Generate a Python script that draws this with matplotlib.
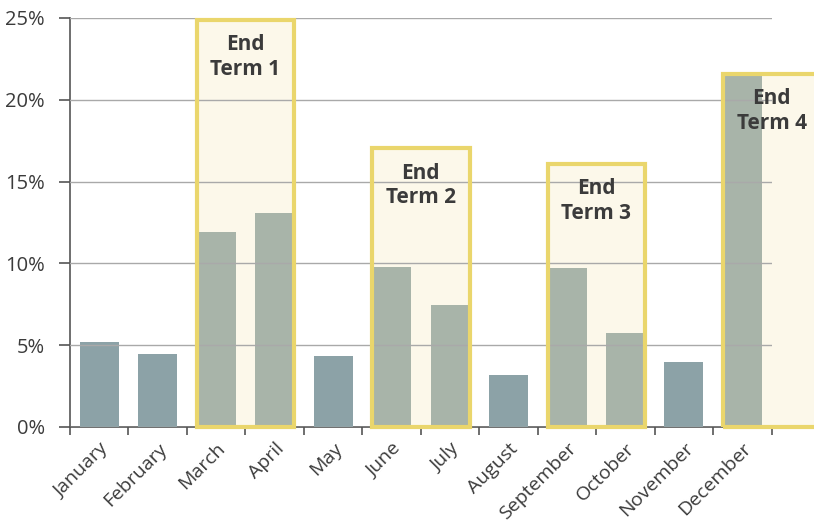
import matplotlib
matplotlib.use("Agg")
import matplotlib.pyplot as plt
import numpy as np

# monthly share, in percent
months = ["January", "February", "March", "April", "May", "June", "July",
          "August", "September", "October", "November", "December"]
values = [5.2, 4.45, 11.9, 13.1, 4.35, 9.8, 7.45, 3.2, 9.7, 5.75, 4.0, 21.5]
in_term = [False, False, True, True, False, True, True, False, True, True, False, True]

# end-of-term boxes: first month index, height of the box
term_labels = ["End\nTerm 1", "End\nTerm 2", "End\nTerm 3", "End\nTerm 4"]
term_start = [2, 5, 8, 11]
term_tops = [24.9, 17.05, 16.1, 21.6]

yticks = [0, 5, 10, 15, 20, 25]

plt.rcParams["font.family"] = ["Open Sans", "DejaVu Sans"]

fig = plt.figure(figsize=(8.14, 5.23), dpi=100)
ax = fig.add_axes([0.086, 0.1836, 0.862, 0.782])

bw = 0.667
x = np.arange(len(months))
lefts = [s - bw / 2 for s in term_start]
box_w = 1 + bw

# box fill behind everything
ax.bar(lefts, term_tops, width=box_w, align="edge", color="#fcf8ea",
       linewidth=0, zorder=0.5, clip_on=False)

colors = ["#a8b4a9" if t else "#8ca2a7" for t in in_term]
ax.bar(x, values, width=bw, color=colors, zorder=2)

# box outlines on top
ax.bar(lefts, term_tops, width=box_w, align="edge", fill=False,
       edgecolor="#ead66c", linewidth=3, zorder=3, clip_on=False)

for lab, l, top in zip(term_labels, lefts, term_tops):
    ax.text(l + box_w / 2, top - 0.9, lab, ha="center", va="top",
            fontsize=15, fontweight="bold", color="#3b3b3b",
            linespacing=1.2, zorder=4, clip_on=False)

ax.set_xlim(-0.5, 11.5)
ax.set_ylim(0, 25)
ax.set_yticks(yticks)
ax.set_yticklabels([f"{v}%" for v in yticks], fontsize=14.5, color="#3b3b3b")
ax.yaxis.grid(True, color="#a9a9a9", linewidth=1, zorder=1)
ax.set_axisbelow(False)
for gl in ax.get_ygridlines():
    gl.set_zorder(1)

ax.set_xticks(np.arange(-0.5, 12, 1))
ax.set_xticklabels([])
ax.set_xticks(x, minor=True)
ax.set_xticklabels(months, minor=True, rotation=45, ha="right",
                   rotation_mode="anchor", fontsize=14, color="#3b3b3b")
ax.tick_params(axis="x", which="minor", length=0, pad=9)
ax.tick_params(axis="x", which="major", length=6, width=1.2, color="#555555")
ax.tick_params(axis="y", length=8, width=1.2, color="#555555", pad=10)

for s in ["top", "right"]:
    ax.spines[s].set_visible(False)
for s in ["left", "bottom"]:
    ax.spines[s].set_color("#555555")
    ax.spines[s].set_linewidth(1.2)
    ax.spines[s].set_zorder(1.5)

fig.savefig("out.png", dpi=100)
